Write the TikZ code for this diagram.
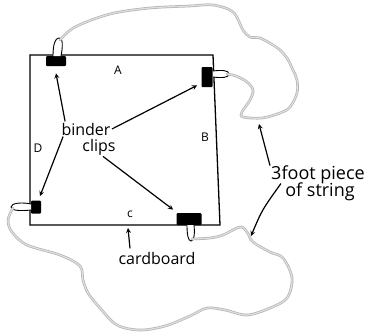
\documentclass[tikz,border=0pt]{standalone}
\usepackage{fontspec}
\setmainfont{Open Sans}
\begin{document}
\begin{tikzpicture}[x=1pt,y=-1pt,thick,
    binder/.style={fill=black,rounded corners=1pt,inner sep=0pt},
    wire/.style={draw=black,line width=0.9pt,fill=white},
    string/.style={draw=gray!60,double=gray!25,double distance=1.2pt,line width=0.7pt,line join=round,line cap=round},
    hand/.style={font=\fontsize{16}{18}\selectfont,inner sep=1pt},
    side/.style={font=\fontsize{12}{13}\selectfont,inner sep=1pt},
    pointer/.style={->,>=stealth,line width=1.2pt}]
    \useasboundingbox (0,0) rectangle (375,335);
    % cardboard
    \draw[line width=1.3pt] (30,55) -- (213,55) -- (220,225) -- (30,225) -- cycle;
    % binder clips
    \node[binder,minimum width=20pt,minimum height=10pt] (clipA) at (56,61) {};
    \node[binder,minimum width=11pt,minimum height=20pt] (clipB) at (207,77) {};
    \node[binder,minimum width=25pt,minimum height=12pt] (clipC) at (189,219) {};
    \node[binder,minimum width=10pt,minimum height=13pt] (clipD) at (36,207) {};
    % wire handles
    \draw[wire] (53,56) .. controls (53,45) and (55,38) .. (59,38) .. controls (63,38) and (63,46) .. (61,56);
    \draw[wire] (213,71) .. controls (221,70) and (229,70) .. (229,74) .. controls (229,78) and (221,78) .. (213,77);
    \draw[wire] (187,225) .. controls (187,234) and (188,241) .. (191,241) .. controls (194,241) and (195,234) .. (194,225);
    \draw[wire] (31,204) .. controls (22,202) and (11,203) .. (11,207) .. controls (11,211) and (22,211) .. (31,210);
    \coordinate (tieA) at (60,40);
    \coordinate (tieB) at (227,74);
    \coordinate (tieC) at (192,239);
    \coordinate (tieD) at (13,208);
    % the string
    \draw[string] plot[smooth,tension=0.55] coordinates {(tieA) (75,27) (110,14) (150,8) (190,6) (213,5) (233,12) (243,30)
        (250,37) (260,38) (273,45) (280,50) (287,58) (293,70) (297,80) (297,93) (290,107) (280,113) (262,118) (243,117)
        (242,112) (250,100) (253,90) (247,82) (236,76) (tieB)};
    \draw[string] plot[smooth,tension=0.55] coordinates {(tieC) (210,238) (223,235) (240,227) (247,232) (253,242)
        (270,252) (283,258) (292,278) (287,298) (270,308) (247,315) (225,310) (207,308) (190,316) (165,326) (140,330)
        (117,325) (100,308) (88,293) (83,280) (80,266) (60,255) (27,245) (12,232) (8,220) (tieD)};
    % labels
    \node[side] (sideA) at (118,70) {A};
    \node[side] (sideB) at (205,137) {B};
    \node[side] (sideC) at (130,214) {c};
    \node[side] (sideD) at (38,148) {D};
    \node[hand] (binder) at (86,129) {binder};
    \node[hand] (clips) at (99,147) {clips};
    \node[hand] (cardboard) at (157,258) {cardboard};
    \node[hand,font=\fontsize{18}{20}\selectfont] (piece) at (318,175) {3foot piece};
    \node[hand,font=\fontsize{18}{20}\selectfont] (ofstring) at (320,192) {of string};
    % arrows
    \draw[pointer] ([xshift=5pt]binder.north west) -- ([yshift=-7pt]clipA.south);
    \draw[pointer] (binder.east) -- ([xshift=-4pt,yshift=2pt]clipB.south west);
    \draw[pointer] ([xshift=3pt]binder.south west) -- ([xshift=4pt,yshift=4pt]clipD.north);
    \draw[pointer] ([xshift=4pt]clips.south) -- ([xshift=-3pt,yshift=3pt]clipC.north west);
    \draw[pointer] ([xshift=-27pt,yshift=2pt]cardboard.north) -- (128,228);
    \draw[pointer] ([xshift=-48pt,yshift=-1pt]piece.north) -- (259,124);
    \draw[pointer] ([xshift=-3pt,yshift=-2pt]ofstring.north west) .. controls (262,210) .. (251,236);
\end{tikzpicture}
\end{document}
